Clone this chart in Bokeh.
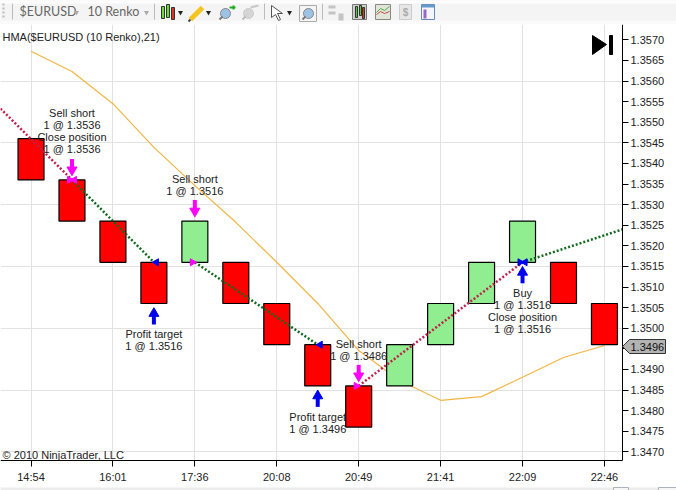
from math import pi
from bokeh.plotting import figure
from bokeh.layouts import column
from bokeh.embed import file_html
from bokeh.resources import INLINE
from bokeh.core.properties import value
from bokeh.models import ColumnDataSource, FixedTicker

# ---- data ----
bar_index = list(range(15))
bar_open = [1.3546, 1.3536, 1.3526, 1.3516, 1.3516, 1.3516, 1.3506, 1.3496,
            1.3486, 1.3486, 1.3496, 1.3506, 1.3516, 1.3516, 1.3506]
bar_close = [1.3536, 1.3526, 1.3516, 1.3506, 1.3526, 1.3506, 1.3496, 1.3486,
             1.3476, 1.3496, 1.3506, 1.3516, 1.3526, 1.3506, 1.3496]
hma = [1.35672, 1.35623, 1.35545, 1.35439, 1.35346, 1.35257, 1.3516, 1.3506,
       1.34946, 1.34873, 1.34825, 1.34834, 1.34881, 1.34929, 1.34958]
time_ticks = [0, 2, 4, 6, 8, 10, 12, 14]
time_labels = ["14:54", "16:01", "17:36", "20:08", "20:49", "21:41", "22:09", "22:46"]
price_ticks = [round(1.3470 + 0.0005 * i, 4) for i in range(21)]
price_grid = [1.3470, 1.3485, 1.3500, 1.3515, 1.3530, 1.3545, 1.3560]

short_x = [-0.745, 1]; short_y = [1.35533, 1.3536]
flat1_x = [1, 3];      flat1_y = [1.3536, 1.3516]
flat2_x = [4, 7];      flat2_y = [1.3516, 1.3496]
long_x = [8, 12];      long_y = [1.3486, 1.3516]
flat3_x = [12, 14.44]; flat3_y = [1.3516, 1.3524]

sell_x = [1, 4, 8];    sell_y = [1.3536, 1.3516, 1.3486]
buy_x = [3, 7, 12];    buy_y = [1.3516, 1.3496, 1.3516]
sell_bar_top = [1.3536, 1.3526, 1.3486]
buy_bar_bottom = [1.3506, 1.3486, 1.3516]

# idx, price, pixels below the trade price, text
note_x = [1, 1, 1, 1, 4, 4, 3, 3, 8, 8, 7, 7, 12, 12, 12, 12]
note_p = [1.3536, 1.3536, 1.3536, 1.3536, 1.3516, 1.3516, 1.3516, 1.3516,
          1.3486, 1.3486, 1.3496, 1.3496, 1.3516, 1.3516, 1.3516, 1.3516]
note_dy = [-67, -55, -43, -31, -83, -71, 72, 84, -42, -30, 72, 84, 31, 43, 55, 67]
note_t = ["Sell short", "1 @ 1.3536", "Close position", "1 @ 1.3536",
          "Sell short", "1 @ 1.3516", "Profit target", "1 @ 1.3516",
          "Sell short", "1 @ 1.3486", "Profit target", "1 @ 1.3496",
          "Buy", "1 @ 1.3516", "Close position", "1 @ 1.3516"]
last_price = 1.3496

FONT = "Liberation Sans"
INK = "#222222"
PX = 0.0005 / 20.6   # price per screen pixel
XPX = 1 / 40.96      # bar index per screen pixel


def fx(px):
    return -0.745 + px * XPX


def fy(py):
    return 1.3570 - (py - 39.3) * PX


x_end, y_start, y_top = fx(676), fy(490), fy(24)
axis_x, axis_y = fx(622), fy(460)

# ---- main chart ----
p = figure(width=676, height=466, output_backend="svg", toolbar_location=None,
           x_range=(fx(0), x_end), y_range=(y_start, y_top),
           y_axis_location="right", min_border=0, background_fill_color="white",
           border_fill_color="white", outline_line_color=None)
p.xgrid.ticker = FixedTicker(ticks=time_ticks)
p.ygrid.ticker = FixedTicker(ticks=price_grid)
p.xgrid.grid_line_color = "#e2e2e2"
p.ygrid.grid_line_color = "#e2e2e2"

for ax, ticks in ((p.xaxis[0], time_ticks), (p.yaxis[0], price_ticks)):
    ax.ticker = FixedTicker(ticks=ticks)
    ax.axis_line_color = "black"
    ax.major_tick_line_color = "black"
    ax.major_tick_out = 6
    ax.major_tick_in = 0
    ax.minor_tick_line_color = None
    ax.major_label_text_font = FONT
    ax.major_label_text_font_size = "11px"
    ax.major_label_text_color = INK
p.xaxis[0].major_label_overrides = dict(zip(time_ticks, time_labels))
p.xaxis[0].major_label_standoff = 4
p.xaxis[0].fixed_location = axis_y
p.xaxis[0].bounds = (fx(0), axis_x)
p.yaxis[0].major_label_overrides = {t: f"{t:.4f}" for t in price_ticks}
p.yaxis[0].major_label_standoff = 2
p.yaxis[0].fixed_location = axis_x
p.yaxis[0].bounds = (axis_y, y_top)

# white margins outside the axes hide the grid there
p.quad(left=[axis_x, fx(0)], right=[x_end, x_end], top=[y_top, axis_y],
       bottom=[y_start, y_start], fill_color="white", line_color=None)

p.line(bar_index, hma, line_color="#f2b544", line_width=1.2)

bar_src = ColumnDataSource(dict(
    x=bar_index,
    top=[max(a, b) for a, b in zip(bar_open, bar_close)],
    bottom=[min(a, b) for a, b in zip(bar_open, bar_close)],
    color=["#90ee90" if c > o else "#ff0000" for o, c in zip(bar_open, bar_close)],
))
p.vbar(x="x", top="top", bottom="bottom", width=0.634, fill_color="color",
       line_color="black", line_width=1.2, source=bar_src)

for xs, ys, col in ((short_x, short_y, "#c21f4d"), (long_x, long_y, "#c21f4d"),
                    (flat1_x, flat1_y, "#0f6a1e"), (flat2_x, flat2_y, "#0f6a1e"),
                    (flat3_x, flat3_y, "#0f6a1e")):
    p.line(xs, ys, line_color=col, line_width=2.5, line_dash="2 2")

# fill markers at the trade prices: each tip touches the trade's bar index
TIP = 2.5 * XPX
p.scatter([v - TIP for v in sell_x], sell_y, marker="triangle", size=7, angle=-pi / 2,
          fill_color="#ff00ff", line_color="#ff00ff")
p.scatter([1 + TIP], [1.3536], marker="triangle", size=7, angle=pi / 2,
          fill_color="#ff00ff", line_color="#ff00ff")
p.scatter([v + TIP for v in buy_x], buy_y, marker="triangle", size=7, angle=pi / 2,
          fill_color="#0000ee", line_color="#0000ee")
p.scatter([12 - TIP], [1.3516], marker="triangle", size=7, angle=-pi / 2,
          fill_color="#0000ee", line_color="#0000ee")

# entry arrows, offset from the bars in price units
p.segment(sell_x, [v + 21 * PX for v in sell_bar_top], sell_x, [v + 12 * PX for v in sell_bar_top],
          line_color="#ff00ff", line_width=4)
p.scatter(sell_x, [v + 10 * PX for v in sell_bar_top], marker="inverted_triangle", size=10,
          fill_color="#ff00ff", line_color="#ff00ff")
p.segment(buy_x, [v - 21 * PX for v in buy_bar_bottom], buy_x, [v - 12 * PX for v in buy_bar_bottom],
          line_color="#0000ee", line_width=4)
p.scatter(buy_x, [v - 10 * PX for v in buy_bar_bottom], marker="triangle", size=10,
          fill_color="#0000ee", line_color="#0000ee")

note_src = ColumnDataSource(dict(
    x=note_x, y=[pr - d * PX for pr, d in zip(note_p, note_dy)], t=note_t))
p.text(x="x", y="y", text="t", source=note_src, text_align="center",
       text_baseline="middle", text_font=value(FONT), text_font_size="11px",
       text_color=INK)

# chart chrome
p.text(x=[fx(2)], y=[fy(454)], text=["\u00a9 2010 NinjaTrader, LLC"], text_baseline="middle",
       text_font=value(FONT), text_font_size="11px", text_color=INK)
p.text(x=[fx(2)], y=[fy(36)], text=["HMA($EURUSD (10 Renko),21)"], text_baseline="middle",
       text_font=value(FONT), text_font_size="11px", text_color=INK)
p.patch([fx(592), fx(606), fx(592)], [fy(35), fy(44), fy(54)], fill_color="black", line_color="black")
p.quad(left=[fx(609)], right=[fx(612)], top=[fy(35)], bottom=[fy(54)],
       fill_color="black", line_color="black")
# last price tag
tag_y = fy(346)
p.patch([fx(622), fx(629), fx(665), fx(665), fx(629)],
        [tag_y, tag_y + 7 * PX, tag_y + 7 * PX, tag_y - 7 * PX, tag_y - 7 * PX],
        fill_color="#b3b3b3", line_color="#333333", level="overlay")
p.text(x=[fx(630)], y=[tag_y], text=[f"{last_price:.4f}"], text_baseline="middle",
       text_font=value(FONT), text_font_size="11px", text_color="#111111", level="overlay")
# scrollbar strip at the foot of the window
p.quad(left=[fx(0)], right=[x_end], top=[fy(487)], bottom=[y_start], fill_color="#ececec", line_color=None)
p.quad(left=[fx(613), fx(658)], right=[fx(628), fx(676)], top=[fy(487)] * 2, bottom=[y_start] * 2,
       fill_color="#f6f6f6", line_color="#aab4c0")

# ---- toolbar strip (pixel coordinates) ----
t = figure(width=676, height=24, output_backend="svg", toolbar_location=None,
           x_range=(0, 676), y_range=(24, 0), min_border=0, outline_line_color=None,
           background_fill_color="#f4f4f4", border_fill_color="#f4f4f4")
t.axis.visible = False
t.grid.visible = False
t.quad(left=[0], right=[676], top=[0], bottom=[3], fill_color="#fdfdfd", line_color=None)
t.quad(left=[0], right=[676], top=[20], bottom=[24], fill_color="#fafafa", line_color=None)
t.text(x=[19, 87], y=[11, 11], text=["$EURUSD", "10 Renko"], text_baseline="middle",
       text_font=value("Lato"), text_font_size="12.5px", text_color="#666666")
# separators
t.segment([12, 154, 264, 322], [3] * 4, [12, 154, 264, 322], [19] * 4, line_color="#bbbbbb")
t.scatter([3, 3, 3, 3], [4, 8, 12, 16], marker="square", size=2, fill_color="#bbbbbb", line_color=None)
# dropdown carets
t.scatter([76, 146, 180, 208, 289], [12] * 5, marker="inverted_triangle", size=5,
          fill_color=["#aaaaaa", "#aaaaaa", "#222222", "#222222", "#222222"], line_color=None)
# candlesticks icon
t.quad(left=[161, 166, 171], right=[164, 169, 174], top=[6, 4, 7], bottom=[18, 17, 19],
       fill_color=["#66dd33", "#66dd33", "#dd3322"], line_color="#333333")
# pencil
t.line([190, 202], [19, 7], line_color="#f2c61f", line_width=5)
t.line([188, 190], [21, 19], line_color="#444444", line_width=2)
# zoom-plus, zoom-minus, search icons
t.circle([225, 248, 308], [13, 13, 13], radius=5,
         fill_color=["#9cc3e6", "#d5d5d5", "#9cc3e6"], line_color=["#888888", "#cccccc", "#888888"])
t.segment([219, 242, 302], [19, 19, 19], [222, 245, 305], [16, 16, 16],
          line_color=["#777777", "#bbbbbb", "#777777"], line_width=2)
t.segment([229, 233], [7, 5], [235, 233], [7, 9], line_color="#22aa22", line_width=2)
t.segment([250], [7], [258], [5], line_color="#c8c8c8", line_width=2)
# cursor arrow
t.patch([271, 271, 275, 278, 280, 277, 282], [5, 17, 14, 20, 19, 13, 13],
        fill_color="white", line_color="#555555")
t.quad(left=[299], right=[316], top=[5], bottom=[21], fill_color=None, line_color="#aaaaaa")
# greyed toolbar icons
t.quad(left=[328, 328, 338], right=[335, 335, 343], top=[5, 11, 13], bottom=[8, 14, 20],
       fill_color="#c4c4c4", line_color=None)
t.quad(left=[352], right=[366], top=[4], bottom=[19], fill_color="#cfcfcf", line_color="#777777")
t.quad(left=[355, 359, 362], right=[357, 361, 364], top=[6, 5, 7], bottom=[17, 15, 18],
       fill_color=["#55cc33", "#55cc33", "#dd3322"], line_color="#333333")
t.quad(left=[375], right=[390], top=[4], bottom=[19], fill_color="#dfe6d8", line_color="#888888")
t.line([376, 380, 384, 389], [12, 8, 10, 6], line_color="#55aa44")
t.line([376, 380, 384, 389], [14, 11, 13, 11], line_color="#cc4444")
t.quad(left=[399], right=[411], top=[4], bottom=[19], fill_color="#e6e6e6", line_color="#cccccc")
t.text(x=[405], y=[12], text=["$"], text_align="center", text_baseline="middle",
       text_font=value(FONT), text_font_size="10px", text_color="#aaaaaa", text_font_style="bold")
t.quad(left=[421], right=[434], top=[4], bottom=[19], fill_color="#f4f6fa", line_color="#6688bb")
t.quad(left=[421], right=[434], top=[4], bottom=[7], fill_color="#6699cc", line_color=None)
t.quad(left=[423], right=[426], top=[9], bottom=[18], fill_color="#9966cc", line_color=None)

page = column(t, p, spacing=0)
open("out.html", "w").write(file_html(page, INLINE))
